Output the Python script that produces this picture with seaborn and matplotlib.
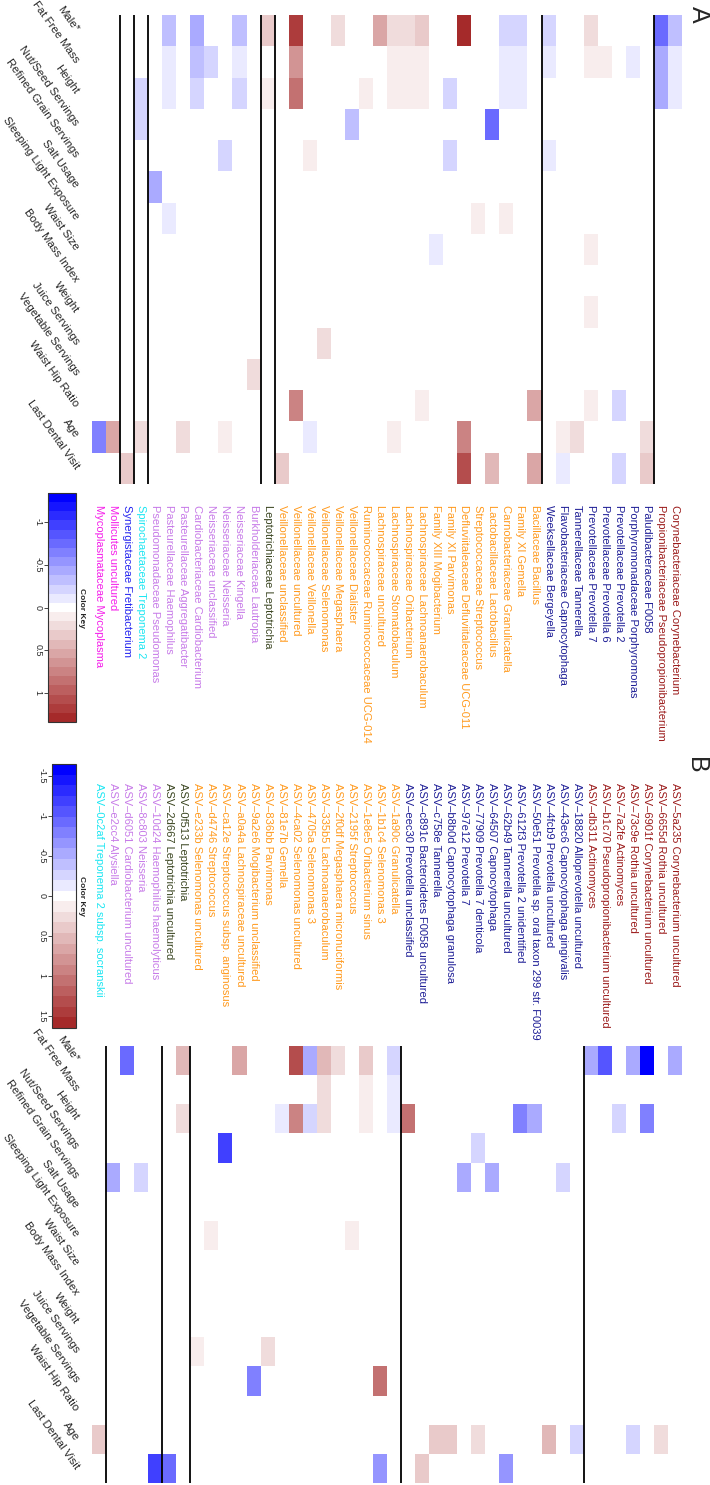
import matplotlib
matplotlib.use("Agg")
import matplotlib.pyplot as plt
import matplotlib.transforms as mtransforms
import numpy as np
import pandas as pd
import seaborn as sns
from matplotlib.colors import LinearSegmentedColormap

variables = [
    "Male*", "Fat Free Mass", "Height", "Nut/Seed Servings", "Refined Grain Servings",
    "Salt Usage", "Sleeping Light Exposure", "Waist Size", "Body Mass Index", "Weight",
    "Juice Servings", "Vegetable Servings", "Waist Hip Ratio", "Age", "Last Dental Visit",
]

phylum_colors = {
    "Actinobacteria": "#9B1B1B",
    "Bacteroidetes": "#1E1E96",
    "Firmicutes": "#FF9A1E",
    "Fusobacteria": "#3A4520",
    "Proteobacteria": "#C77BE8",
    "Spirochaetes": "#1CE6F2",
    "Synergistetes": "#2424F0",
    "Tenericutes": "#F51EEA",
}

# panel A: genera
taxa_a = [
    "Corynebacteriaceae Corynebacterium", "Propionibacteriaceae Pseudopropionibacterium",
    "Paludibacteraceae F0058", "Porphyromonadaceae Porphyromonas",
    "Prevotellaceae Prevotella 2", "Prevotellaceae Prevotella 6", "Prevotellaceae Prevotella 7",
    "Tannerellaceae Tannerella", "Flavobacteriaceae Capnocytophaga", "Weeksellaceae Bergeyella",
    "Bacillaceae Bacillus", "Family XI Gemella", "Carnobacteriaceae Granulicatella",
    "Lactobacillaceae Lactobacillus", "Streptococcaceae Streptococcus",
    "Defluviitaleaceae Defluviitaleaceae UCG-011", "Family XI Parvimonas",
    "Family XIII Mogibacterium", "Lachnospiraceae Lachnoanaerobaculum",
    "Lachnospiraceae Oribacterium", "Lachnospiraceae Stomatobaculum",
    "Lachnospiraceae uncultured", "Ruminococcaceae Ruminococcaceae UCG-014",
    "Veillonellaceae Dialister", "Veillonellaceae Megasphaera", "Veillonellaceae Selenomonas",
    "Veillonellaceae Veillonella", "Veillonellaceae uncultured", "Veillonellaceae unclassified",
    "Leptotrichiaceae Leptotrichia",
    "Burkholderiaceae Lautropia", "Neisseriaceae Kingella", "Neisseriaceae Neisseria",
    "Neisseriaceae unclassified", "Cardiobacteriaceae Cardiobacterium",
    "Pasteurellaceae Aggregatibacter", "Pasteurellaceae Haemophilus",
    "Pseudomonadaceae Pseudomonas",
    "Spirochaetaceae Treponema 2",
    "Synergistaceae Fretibacterium",
    "Mollicutes uncultured", "Mycoplasmataceae Mycoplasma",
]
phyla_a = [("Actinobacteria", 2), ("Bacteroidetes", 8), ("Firmicutes", 19), ("Fusobacteria", 1),
           ("Proteobacteria", 8), ("Spirochaetes", 1), ("Synergistetes", 1), ("Tenericutes", 2)]

# (variable index, taxon number in label order, correlation)
cells_a = [
    (0, 1, -0.33), (0, 2, -0.70), (0, 7, 0.25), (0, 10, -0.25), (0, 12, -0.2), (0, 13, -0.2),
    (0, 16, 1.34), (0, 19, 0.3), (0, 20, 0.2), (0, 21, 0.22), (0, 22, 0.57), (0, 25, 0.22),
    (0, 28, 1.2), (0, 30, 0.3), (0, 32, -0.33), (0, 35, -0.42), (0, 37, -0.28),
    (1, 1, -0.15), (1, 2, -0.42), (1, 4, -0.1), (1, 6, 0.08), (1, 7, 0.1), (1, 10, -0.13),
    (1, 12, -0.1), (1, 13, -0.1), (1, 19, 0.15), (1, 20, 0.07), (1, 21, 0.07), (1, 27, 0.04),
    (1, 28, 0.6), (1, 30, 0.05), (1, 32, -0.15), (1, 34, -0.25), (1, 35, -0.3), (1, 37, -0.15),
    (2, 1, -0.15), (2, 2, -0.38), (2, 12, -0.1), (2, 13, -0.1), (2, 17, -0.25), (2, 19, 0.14),
    (2, 20, 0.07), (2, 21, 0.07), (2, 23, 0.07), (2, 28, 0.85), (2, 30, 0.1), (2, 32, -0.17),
    (2, 35, -0.24), (2, 37, -0.1), (2, 39, -0.17),
    (3, 14, -0.71), (3, 24, -0.28), (3, 39, -0.25),
    (4, 10, -0.15), (4, 17, -0.2), (4, 27, 0.07), (4, 33, -0.17),
    (5, 38, -0.46),
    (6, 13, 0.07), (6, 15, 0.07), (6, 37, -0.1),
    (7, 7, 0.07), (7, 18, -0.15),
    (9, 7, 0.07),
    (10, 26, 0.2),
    (11, 31, 0.22),
    (12, 5, -0.2), (12, 7, 0.07), (12, 11, 0.5), (12, 19, 0.07), (12, 28, 0.7),
    (13, 3, 0.25), (13, 8, 0.25), (13, 9, 0.12), (13, 16, 0.75), (13, 21, 0.08), (13, 27, -0.12),
    (13, 33, 0.1), (13, 36, 0.2), (13, 39, 0.26), (13, 41, 0.52), (13, 42, -0.6),
    (14, 3, 0.28), (14, 5, -0.25), (14, 9, -0.1), (14, 11, 0.52), (14, 14, 0.38), (14, 16, 1.05),
    (14, 29, 0.28), (14, 40, 0.28),
]
ticks_a = [-1, -0.5, 0, 0.5, 1]
vmax_a = 1.34

# panel B: ASVs
taxa_b = [
    "ASV\u20135a235 Corynebacterium uncultured", "ASV\u20136655d Rothia uncultured",
    "ASV\u20136901f Corynebacterium uncultured", "ASV\u201373c9e Rothia uncultured",
    "ASV\u20137a2fe Actinomyces", "ASV\u2013b1c70 Pseudopropionibacterium uncultured",
    "ASV\u2013db311 Actinomyces",
    "ASV\u201318820 Alloprevotella uncultured", "ASV\u201343ec6 Capnocytophaga gingivalis",
    "ASV\u20134fcb9 Prevotella uncultured",
    "ASV\u201350e51 Prevotella sp. oral taxon 299 str. F0039",
    "ASV\u2013612f3 Prevotella 2 unidentified", "ASV\u201362b49 Tannerella uncultured",
    "ASV\u201364507 Capnocytophaga", "ASV\u201377909 Prevotella 7 denticola",
    "ASV\u201397e12 Prevotella 7", "ASV\u2013b8b0d Capnocytophaga granulosa",
    "ASV\u2013c758e Tannerella", "ASV\u2013c891c Bacteroidetes F0058 uncultured",
    "ASV\u2013eec30 Prevotella unclassified",
    "ASV\u20131a90c Granulicatella", "ASV\u20131b1c4 Selenomonas 3",
    "ASV\u20131e8e5 Oribacterium sinus", "ASV\u20132195f Streptococcus",
    "ASV\u20132f0df Megasphaera micronuciformis", "ASV\u2013335b5 Lachnoanaerobaculum",
    "ASV\u20134705a Selenomonas 3", "ASV\u20134ca02 Selenomonas uncultured",
    "ASV\u201381e7b Gemella", "ASV\u2013836bb Parvimonas",
    "ASV\u20139a2e6 Mogibacterium unclassified", "ASV\u2013a0a4a Lachnospiraceae uncultured",
    "ASV\u2013ca12e Streptococcus subsp. anginosus", "ASV\u2013d4746 Streptococcus",
    "ASV\u2013e233b Selenomonas uncultured",
    "ASV\u20130f513 Leptotrichia", "ASV\u20132d667 Leptotrichia uncultured",
    "ASV\u201310d24 Haemophilus haemolyticus", "ASV\u20138c803 Neisseria",
    "ASV\u2013d6051 Cardiobacterium uncultured", "ASV\u2013e2cc4 Alysiella",
    "ASV\u20130c2af Treponema 2 subsp. socranskii",
]
phyla_b = [("Actinobacteria", 7), ("Bacteroidetes", 13), ("Firmicutes", 15), ("Fusobacteria", 2),
           ("Proteobacteria", 4), ("Spirochaetes", 1)]

cells_b = [
    (0, 1, -0.51), (0, 3, -1.65), (0, 4, -0.51), (0, 6, -1.08), (0, 7, -0.49), (0, 21, -0.22),
    (0, 23, 0.43), (0, 25, 0.28), (0, 26, 0.53), (0, 27, -0.56), (0, 28, 1.3), (0, 32, 0.6),
    (0, 36, 0.53), (0, 40, -0.92),
    (1, 21, -0.1), (1, 23, 0.1), (1, 26, 0.25),
    (2, 3, -0.82), (2, 5, -0.3), (2, 11, -0.56), (2, 12, -0.82), (2, 20, 1.04), (2, 21, -0.1),
    (2, 23, 0.1), (2, 26, 0.25), (2, 27, -0.3), (2, 28, 0.86), (2, 29, -0.1), (2, 36, 0.3),
    (3, 15, -0.3), (3, 33, -1.24),
    (4, 9, -0.22), (4, 14, -0.56), (4, 16, -0.56), (4, 39, -0.22), (4, 41, -0.56),
    (6, 24, 0.12), (6, 34, 0.12),
    (10, 30, 0.3), (10, 35, 0.15),
    (11, 22, 0.99), (11, 31, -0.82),
    (13, 2, 0.22), (13, 4, -0.22), (13, 8, -0.22), (13, 10, 0.55), (13, 15, 0.3), (13, 17, 0.35),
    (13, 18, 0.4), (13, 42, 0.45),
    (14, 13, -0.61), (14, 19, 0.4), (14, 22, -0.72), (14, 37, -0.87), (14, 38, -1.24),
]
ticks_b = [-1.5, -1, -0.5, 0, 0.5, 1, 1.5]
vmax_b = 1.65

W, H = 710, 1485
cmap = LinearSegmentedColormap.from_list("key", ["#0000FF", "#FFFFFF", "#A52A2A"], N=25)

sns.set_style("white")
plt.rcParams["font.family"] = ["Liberation Sans", "DejaVu Sans"]


def rect(x, y, w, h):
    # pixel box measured from the top-left corner -> figure fraction
    return [x / W, 1 - (y + h) / H, w / W, h / H]


def to_frame(cells, n):
    mat = np.zeros((len(variables), n))
    for r, t, v in cells:
        mat[r, t - 1] = v
    df = pd.DataFrame(mat, index=variables, columns=range(1, n + 1))
    return df[df.columns[::-1]]  # first taxon ends up on the right


def label_colors(phyla):
    out = []
    for name, k in phyla:
        out += [phylum_colors[name]] * k
    return out


def fmt(t):
    return f"{t:g}"


def draw_panel(fig, hm_box, key_box, cells, taxa, phyla, vmax, ticks):
    n = len(taxa)
    df = to_frame(cells, n)
    ax = fig.add_axes(rect(*hm_box))
    cax = fig.add_axes(rect(*key_box))
    sns.heatmap(df, ax=ax, cmap=cmap, vmin=-vmax, vmax=vmax, cbar_ax=cax,
                xticklabels=taxa[::-1], yticklabels=variables, linewidths=0)

    ax.set_yticklabels(variables, rotation=-54.5, ha="right", va="center",
                       rotation_mode="anchor", fontsize=8.2)
    ax.tick_params(axis="y", length=0, pad=11)

    for k in np.cumsum([c for _, c in phyla])[:-1]:
        ax.axvline(n - k, color="black", lw=1.3)

    cbar = ax.collections[0].colorbar
    cbar.outline.set_linewidth(0.8)
    cbar.outline.set_edgecolor("#333333")
    cbar.set_ticks(ticks)
    cbar.set_ticklabels([fmt(t) for t in ticks])
    cbar.ax.invert_yaxis()
    cbar.ax.yaxis.set_ticks_position("left")
    cbar.ax.tick_params(labelsize=6.5, length=3, width=0.6, pad=1)
    for lbl in cbar.ax.get_yticklabels():
        lbl.set_rotation(270)
        lbl.set_va("center")
        lbl.set_ha("right")
    cax.text(1.08, 0.5, "Color Key", transform=cax.transAxes, rotation=270,
             ha="left", va="center", fontsize=6, fontweight="bold")
    return ax, df


fig = plt.figure(figsize=(W / 100, H / 100), dpi=100)

# panel A: labels hang below the heatmap
ax_a, df_a = draw_panel(fig, (92, 15, 590, 469), (48, 493, 28, 229),
                        cells_a, taxa_a, phyla_a, vmax_a, ticks_a)
ax_a.tick_params(axis="x", length=0, pad=15)
for lbl, c in zip(ax_a.get_xticklabels(), label_colors(phyla_a)[::-1]):
    lbl.set_rotation(270)
    lbl.set_ha("center")
    lbl.set_va("top")
    lbl.set_fontsize(8)
    lbl.set_color(c)

# panel B: labels sit above the heatmap, aligned at their start
ax_b, df_b = draw_panel(fig, (92, 1046, 590, 437), (52, 764, 24, 264),
                        cells_b, taxa_b, phyla_b, vmax_b, ticks_b)
ax_b.set_xticks([])
trans = mtransforms.blended_transform_factory(ax_b.transData, fig.transFigure)
for i, (name, c) in enumerate(zip(taxa_b[::-1], label_colors(phyla_b)[::-1])):
    ax_b.text(i + 0.5, 1 - 783 / H, name, transform=trans, rotation=270,
              ha="center", va="top", fontsize=8, color=c, clip_on=False)

fig.text(699 / W, 1 - 14 / H, "A", rotation=270, ha="center", va="center", fontsize=18)
fig.text(696 / W, 1 - 765 / H, "B", rotation=270, ha="center", va="center", fontsize=18)

fig.savefig("out.png", dpi=100)
